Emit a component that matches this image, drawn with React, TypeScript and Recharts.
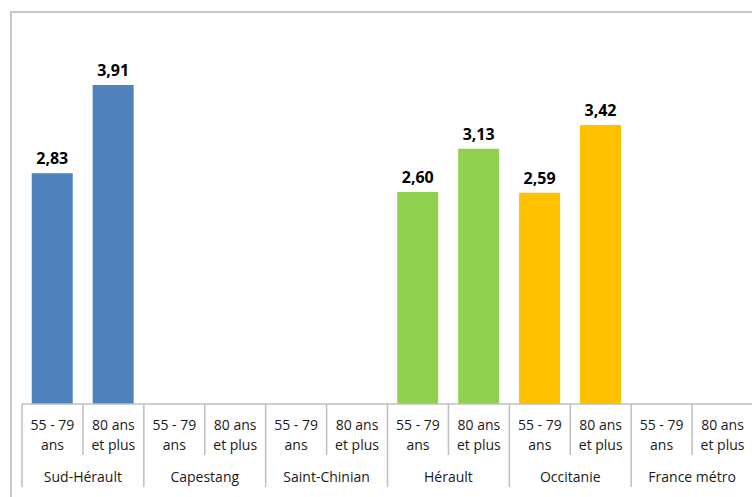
import { BarChart, Bar, XAxis, YAxis, Cell, LabelList } from "recharts";

// territories, two age bands each
const groups = ["Sud-Hérault", "Capestang", "Saint-Chinian", "Hérault", "Occitanie", "France métro"];
const ageBands = [
  ["55 - 79", "ans"],
  ["80 ans", "et plus"],
];
const groupColors = ["#4F81BD", "#4F81BD", "#4F81BD", "#92D050", "#FFC000", "#FFC000"];
// one value per age band, null where the territory has no figure
const groupValues: (number | null)[][] = [
  [2.83, 3.91],
  [null, null],
  [null, null],
  [2.6, 3.13],
  [2.59, 3.42],
  [null, null],
];

const rows = groups.flatMap((g, gi) =>
  ageBands.map((a, ai) => ({
    key: `${g}|${ai}`,
    group: g,
    age: a,
    value: groupValues[gi][ai],
    color: groupColors[gi],
  }))
);

const CHART_W = 760;
const CHART_H = 497;
const LEFT = 22;
const RIGHT = 7;
const AXIS_H = 93;
const PLOT_BOTTOM = CHART_H - AXIS_H;
const BAND = (CHART_W - LEFT - RIGHT) / rows.length;
const LINE = "#BFBFBF";
const FONT = "'Open Sans', sans-serif";

function fmt(v: unknown) {
  if (v == null) return "";
  return Number(v).toFixed(2).replace(".", ",");
}

function AgeTick(props: any) {
  const { x, index } = props;
  const row = rows[index];
  if (!row) return null;
  const first = index % 2 === 0;
  const left = x - BAND / 2;
  const right = x + BAND / 2;
  return (
    <g>
      <line
        x1={left}
        x2={left}
        y1={PLOT_BOTTOM}
        y2={first ? PLOT_BOTTOM + 83 : PLOT_BOTTOM + 51}
        stroke={LINE}
        strokeWidth={1.5}
      />
      {index === rows.length - 1 && (
        <line x1={right} x2={right} y1={PLOT_BOTTOM} y2={PLOT_BOTTOM + 83} stroke={LINE} strokeWidth={1.5} />
      )}
      <text x={x} y={PLOT_BOTTOM + 26} textAnchor="middle" fontSize={14} fill="#1a1a1a" fontFamily={FONT}>
        {row.age[0]}
      </text>
      <text x={x} y={PLOT_BOTTOM + 46} textAnchor="middle" fontSize={14} fill="#1a1a1a" fontFamily={FONT}>
        {row.age[1]}
      </text>
      {!first && (
        <text x={left} y={PLOT_BOTTOM + 78} textAnchor="middle" fontSize={14} fill="#1a1a1a" fontFamily={FONT}>
          {row.group}
        </text>
      )}
    </g>
  );
}

export default function App() {
  return (
    <div style={{ position: "absolute", left: 0, top: 0, width: 752, height: 497, overflow: "hidden", background: "#fff" }}>
      <style>{"body{margin:0;overflow:hidden}"}</style>
      <div
        style={{
          position: "absolute",
          left: 10,
          top: 11,
          width: 800,
          height: 600,
          border: "2px solid #C8C8C8",
          boxSizing: "border-box",
        }}
      />
      <div style={{ position: "absolute", left: 0, top: 0 }}>
        <BarChart
          width={CHART_W}
          height={CHART_H}
          data={rows}
          margin={{ top: 37, right: RIGHT, bottom: 0, left: LEFT }}
          barCategoryGap="16%"
        >
          <XAxis
            dataKey="key"
            interval={0}
            height={AXIS_H}
            tickLine={false}
            axisLine={{ stroke: LINE, strokeWidth: 1.5 }}
            tick={<AgeTick />}
          />
          <YAxis hide domain={[0, 4.5]} />
          <Bar dataKey="value" isAnimationActive={false}>
            {rows.map((r) => (
              <Cell key={r.key} fill={r.color} />
            ))}
            <LabelList
              dataKey="value"
              position="top"
              offset={9}
              formatter={fmt}
              style={{ fontFamily: FONT, fontSize: 16, fontWeight: 700, fill: "#000" }}
            />
          </Bar>
        </BarChart>
      </div>
    </div>
  );
}
